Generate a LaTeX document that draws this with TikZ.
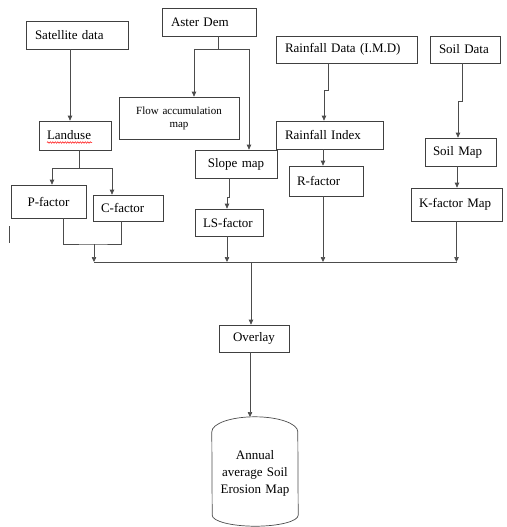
\documentclass[tikz,border=0pt]{standalone}
\usepackage{fontspec}
\setmainfont{Liberation Serif}
\usetikzlibrary{calc,arrows.meta,decorations.pathmorphing}

\tikzset{
  box/.style = {draw = black!75, line width = 0.7pt, inner xsep = 9pt, inner ysep = 0pt, align = left, font = \fontsize{13}{15}\selectfont},
  cbox/.style = {box, align = center},
  line/.style = {draw = black!70, line width = 0.7pt},
  arr/.style = {line, -{Triangle[length = 5pt, width = 4.5pt]}}
}

\begin{document}
\begin{tikzpicture}[x = 1pt, y = -1pt]
  \useasboundingbox (0,0) rectangle (506,527);

  \node [box, text width = 84pt, minimum height = 28pt] (sat) at (77,35) {Satellite data};
  \node [box, text width = 76pt, minimum height = 28pt] (aster) at (209,22) {Aster Dem};
  \node [cbox, text width = 102pt, minimum height = 42pt, font = \fontsize{11}{13}\selectfont] (flow) at (179,118) {Flow accumulation\\map};
  \node [box, inner xsep = 8pt, text width = 56pt, minimum height = 29pt] (lu) at (75,135.5) {Landuse};
  \node [box, text width = 123pt, minimum height = 27pt] (rain) at (346.5,49.5) {Rainfall Data (I.M.D)};
  \node [box, text width = 52pt, minimum height = 27pt] (soild) at (465,49.5) {Soil Data};
  \node [box, text width = 89pt, minimum height = 28pt] (rindex) at (329.5,135) {Rainfall Index};
  \node [cbox, text width = 64pt, minimum height = 28pt] (slope) at (236,164) {Slope map};
  \node [box, inner xsep = 8pt, text width = 55pt, minimum height = 28pt] (soilm) at (460.5,152) {Soil Map};
  \node [box, inner xsep = 8pt, text width = 58pt, minimum height = 30pt] (rfac) at (326,181) {R-factor};
  \node [box, inner xsep = 8pt, text width = 75pt, minimum height = 33pt] (kfac) at (456.5,204.5) {K-factor Map};
  \node [box, inner xsep = 8pt, text width = 52pt, minimum height = 27pt] (ls) at (229,222.5) {LS-factor};
  \node [cbox, text width = 57pt, minimum height = 33pt] (pfac) at (48.5,201.5) {P-factor};
  \node [box, inner xsep = 8pt, text width = 54pt, minimum height = 26pt] (cfac) at (128,208) {C-factor};
  \node [cbox, text width = 52pt, minimum height = 27pt] (overlay) at (254,338.5) {Overlay};
  \node [align = center, inner xsep = 3pt, inner ysep = 0pt, text width = 80pt, minimum height = 83pt, font = \fontsize{13}{17}\selectfont] (cyl) at (255,473.5) {Annual\\average Soil\\Erosion Map};

  \coordinate (asl) at (194,49);
  \coordinate (asr) at (249,49);
  \coordinate (pcm) at (94,244);
  \coordinate (busl) at (94,262);
  \coordinate (busr) at (457,262);
  \coordinate (busm) at (251,262);
  \coordinate (cyltop) at (250,417);

  \draw [arr] ([xshift = -7pt]sat.south) -- ([xshift = -7pt]sat.south |- lu.north);
  \draw [line] ([xshift = 9pt]aster.south) -- ++(0,13);
  \draw [line] (asl) -- (asr);
  \draw [arr] (asl) -- (asl |- flow.north);
  \draw [arr] (asr) -- (asr |- slope.north);
  \draw [arr] ([xshift = -18.5pt]rain.south) -- ++(0,27) -| ([xshift = -5.5pt]rindex.north);
  \draw [arr] ([xshift = -3pt]soild.south) -- ++(0,38) -| ([xshift = -2.5pt]soilm.north);
  \draw [arr] ([xshift = -6.5pt]rindex.south) -- ([xshift = -6.5pt]rindex.south |- rfac.north);
  \draw [arr] ([xshift = -3.5pt]soilm.south) -- ([xshift = -3.5pt]soilm.south |- kfac.north);
  \draw [arr] ([xshift = -7pt]slope.south) -- ++(0,19) -| ([xshift = -2pt]ls.north);
  \draw [line] ([xshift = 4pt]lu.south) -- ++(0,18) coordinate (luj);
  \draw [arr] (luj) -| ([xshift = 3.5pt]pfac.north);
  \draw [arr] (luj) -| ([xshift = -16pt]cfac.north);
  \draw [line] ([xshift = 14.5pt]pfac.south) |- (pcm) -| ([xshift = -7pt]cfac.south);
  \draw [arr] (pcm) -- (busl);
  \draw [line] (busl) -- (busr);
  \draw [arr] ([xshift = -2pt]ls.south) -- ([xshift = -2pt]ls.south |- busl);
  \draw [arr] ([xshift = -3pt]rfac.south) -- ([xshift = -3pt]rfac.south |- busl);
  \draw [arr] (kfac.south) -- (kfac.south |- busr);
  \draw [arr] (busm) -- (busm |- overlay.north);
  \draw [arr] (overlay.south -| cyltop) -- (cyltop);

  \draw [line] (cyl.north west) arc [start angle = 180, end angle = 0, x radius = 43pt, y radius = 15pt] -- (cyl.south east) arc [start angle = 0, end angle = -180, x radius = 43pt, y radius = 11pt] -- cycle;

  \draw [red, line width = 0.5pt, decorate, decoration = {snake, amplitude = 0.7pt, segment length = 2.5pt}] (47,142.5) -- (92,142.5);
  \draw [line] (9,226) -- (9,243);
\end{tikzpicture}
\end{document}
